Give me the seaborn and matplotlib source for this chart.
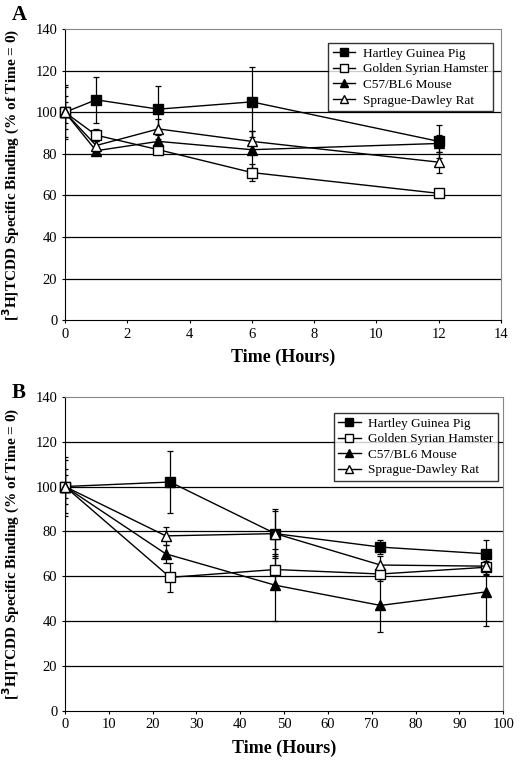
import matplotlib
matplotlib.use("Agg")
import matplotlib.pyplot as plt
import pandas as pd
import seaborn as sns

# species and marker styles
species = ['Hartley Guinea Pig', 'Golden Syrian Hamster', 'C57/BL6 Mouse', 'Sprague-Dawley Rat']

# panel A: short time course (hours)
hours_a = [0, 1, 3, 6, 12]
pig_a = [100, 106, 101.5, 105, 86]
pig_a_err = [13, 11, 11, 17, 8]
ham_a = [100, 89, 82, 71, 61]
ham_a_err = [8, 3, 2, 4, 1]
mouse_a = [100, 81.5, 86, 82, 85]
mouse_a_err = [5, 2, 3, 9, 4]
rat_a = [100, 84, 92, 86, 76]
rat_a_err = [12, 2, 5, 5, 5]

# panel B: long time course (hours)
hours_b = [0, 24, 48, 72, 96]
hours_b_tri = [0, 23, 48, 72, 96]
pig_b = [100, 102, 79, 73, 70]
pig_b_err = [13, 14, 11, 3, 6]
ham_b = [100, 59.5, 63, 61, 64]
ham_b_err = [8, 6.5, 7, 3, 3]
mouse_b = [100, 70, 56, 47, 53]
mouse_b_err = [5, 4, 16, 12, 15]
rat_b = [100, 78, 79, 65, 64.5]
rat_b_err = [12, 4, 10, 4, 4]

markers = ['s', 's', '^', '^']
faces = ['black', 'white', 'black', 'white']

plt.rcParams['font.family'] = ['Liberation Serif', 'DejaVu Serif']

fig = plt.figure(figsize=(5.28, 7.66), dpi=100)
ax_a = fig.add_axes([0.123, 0.582, 0.826, 0.380])
ax_b = fig.add_axes([0.123, 0.072, 0.830, 0.410])


def draw_panel(ax, xs, ys, errs, xmax, xstep, anchor):
    for i, name in enumerate(species):
        ax.errorbar(xs[i], ys[i], yerr=errs[i], fmt='none', ecolor='black',
                    elinewidth=0.9, capsize=2.5, capthick=0.9, zorder=3)
        df = pd.DataFrame({'x': xs[i], 'y': ys[i]})
        sns.lineplot(data=df, x='x', y='y', ax=ax, color='black', linewidth=1,
                     marker=markers[i], markersize=7, markerfacecolor=faces[i],
                     markeredgecolor='black', markeredgewidth=1, label=name,
                     zorder=4, clip_on=False)
    ax.set_xlim(0, xmax)
    ax.set_ylim(0, 140)
    ax.set_xticks(range(0, xmax + 1, xstep))
    ax.set_yticks(range(0, 141, 20))
    for yv in range(20, 140, 20):
        ax.axhline(yv, color='black', linewidth=0.9, zorder=1)
    for side in ['top', 'right']:
        ax.spines[side].set_color('#888888')
    for side in ['left', 'bottom']:
        ax.spines[side].set_color('black')
    ax.tick_params(direction='out', length=2.5, labelsize=10.5, width=0.8, pad=3)
    ax.set_xlabel('Time (Hours)', fontsize=13, fontweight='bold', labelpad=6)
    ax.set_ylabel('[$^{\\mathbf{3}}$H]TCDD Specific Binding (% of Time = 0)',
                  fontsize=11, fontweight='bold')
    ax.yaxis.set_label_coords(-0.098, 0.5)
    leg = ax.legend(loc='upper right', bbox_to_anchor=anchor, fontsize=9.5,
                    frameon=True, fancybox=False, edgecolor='black',
                    handlelength=1.7, borderpad=0.35, labelspacing=0.25,
                    handletextpad=0.6, markerscale=0.85, borderaxespad=0)
    leg.get_frame().set_linewidth(1)


draw_panel(ax_a, [hours_a] * 4, [pig_a, ham_a, mouse_a, rat_a],
           [pig_a_err, ham_a_err, mouse_a_err, rat_a_err], 14, 2, (0.982, 0.952))
draw_panel(ax_b, [hours_b, hours_b, hours_b_tri, hours_b_tri],
           [pig_b, ham_b, mouse_b, rat_b],
           [pig_b_err, ham_b_err, mouse_b_err, rat_b_err], 100, 10, (0.989, 0.949))

fig.text(12 / 528, 1 - 15 / 766, 'A', fontsize=15, fontweight='bold', va='center')
fig.text(12 / 528, 1 - 393 / 766, 'B', fontsize=15, fontweight='bold', va='center')

fig.savefig('out.png', dpi=100)
